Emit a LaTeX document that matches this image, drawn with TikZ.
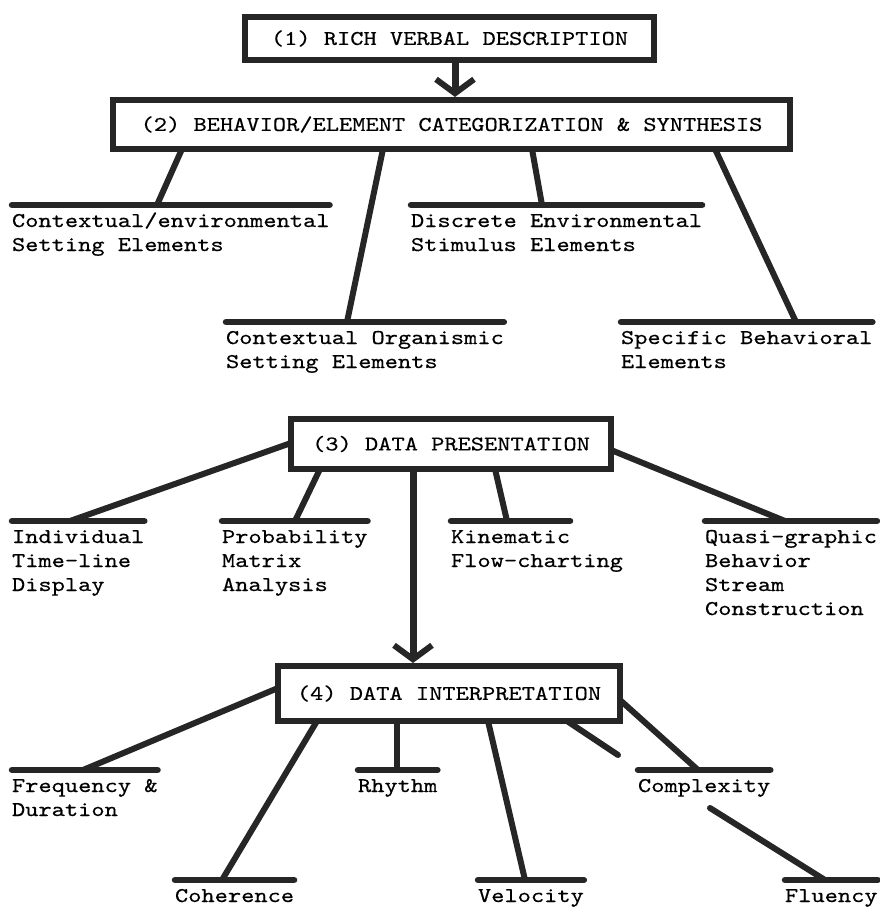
\documentclass[tikz,border=0pt]{standalone}
\usepackage{fontspec}
\newfontfamily\tw{lmmono10-regular.otf}[FakeStretch=1.2,FakeBold=0.4]
\usetikzlibrary{arrows.meta,calc,backgrounds}
\begin{document}
\begin{tikzpicture}[x=1pt,y=1pt,
  boxnode/.style={rectangle, draw=black!85, line width=6pt, fill=white, inner sep=0pt, outer sep=0pt, font=\tw\fontsize{21}{24}\selectfont},
  conn/.style={draw=black!85, line width=6pt, line cap=round},
  flow/.style={draw=black!85, line width=7pt, -{Straight Barb[length=14pt,width=38pt,line width=6pt]}},
  labbar/.style={draw=black!85, line width=6.5pt, line cap=round},
  lab/.style={font=\tw\fontsize{21}{24}\selectfont, inner sep=0pt, outer sep=0pt, anchor=north west, text height=22pt, text depth=0pt,
    append after command={(\tikzlastnode.north west) edge[labbar] (\tikzlastnode.north east)}},
  rest/.style={font=\tw\fontsize{21}{24}\selectfont, inner sep=0pt, outer sep=0pt, anchor=north west, align=left},
]
\useasboundingbox (0,0) rectangle (880,-908);

% boxes
\node[boxnode, minimum width=409pt, minimum height=43pt] (b1) at (449.5,-38.5) {(1) RICH VERBAL DESCRIPTION};
\node[boxnode, minimum width=677pt, minimum height=49pt] (b2) at (451.5,-124.5) {(2) BEHAVIOR/ELEMENT CATEGORIZATION \& SYNTHESIS};
\node[boxnode, minimum width=320pt, minimum height=50pt] (b3) at (451,-444) {(3) DATA PRESENTATION};
\node[boxnode, minimum width=342pt, minimum height=55pt] (b4) at (449,-693.5) {(4) DATA INTERPRETATION};

% labels, row 1
\node[lab] (cenv) at (12,-205) {Contextual/environmental};
\node[rest] (cenv2) at (cenv.south west) {\rule{0pt}{24pt}Setting Elements};
\node[lab] (disc) at (411,-205) {Discrete Environmental};
\node[rest] (disc2) at (disc.south west) {\rule{0pt}{24pt}Stimulus Elements};
% row 2
\node[lab] (corg) at (226,-322) {Contextual Organismic};
\node[rest] (corg2) at (corg.south west) {\rule{0pt}{24pt}Setting Elements};
\node[lab] (spec) at (621,-322) {Specific Behavioral};
\node[rest] (spec2) at (spec.south west) {\rule{0pt}{24pt}Elements};
% row 3
\node[lab] (indiv) at (12,-521) {Individual};
\node[rest] (indiv2) at (indiv.south west) {\rule{0pt}{24pt}Time-line\\Display};
\node[lab] (prob) at (222,-521) {Probability};
\node[rest] (prob2) at (prob.south west) {\rule{0pt}{24pt}Matrix\\Analysis};
\node[lab] (kin) at (451,-521) {Kinematic};
\node[rest] (kin2) at (kin.south west) {\rule{0pt}{24pt}Flow-charting};
\node[lab] (quasi) at (705,-521) {Quasi-graphic};
\node[rest] (quasi2) at (quasi.south west) {\rule{0pt}{24pt}Behavior\\Stream\\Construction};
% row 4
\node[lab] (freq) at (12,-770) {Frequency \&};
\node[rest] (freq2) at (freq.south west) {\rule{0pt}{24pt}Duration};
\node[lab] (rhy) at (358,-770) {Rhythm};
\node[lab] (cplx) at (638,-770) {Complexity};
% row 5
\node[lab] (coh) at (175,-880) {Coherence};
\node[lab] (vel) at (478,-880) {Velocity};
\node[lab] (flu) at (785,-880) {Fluency};

\coordinate (stubend) at (618,-755);
\coordinate (flustart) at (710,-808);

\begin{pgfonlayer}{background}
% flow arrows
\draw[flow] ([xshift=5.5pt]b1.south) -- ([xshift=3.5pt,yshift=3pt]b2.north);
\draw[flow] ([xshift=122pt]b3.south west) -- ([xshift=135pt,yshift=3pt]b4.north west);
% from box 2
\draw[conn] ([xshift=69pt]b2.south west) -- ([xshift=145pt]cenv.north west);
\draw[conn] ([xshift=270pt]b2.south west) -- ([xshift=121pt]corg.north west);
\draw[conn] ([xshift=419pt]b2.south west) -- ([xshift=131pt]disc.north west);
\draw[conn] ([xshift=602pt]b2.south west) -- ([xshift=175pt]spec.north west);
% from box 3
\draw[conn] ([yshift=1pt]b3.west) -- ([xshift=58pt]indiv.north west);
\draw[conn] ([xshift=29pt]b3.south west) -- ([xshift=73pt]prob.north west);
\draw[conn] ([xshift=204pt]b3.south west) -- ([xshift=56pt]kin.north west);
\draw[conn] ([yshift=-6pt]b3.east) -- ([xshift=80pt]quasi.north west);
% from box 4
\draw[conn] ([yshift=5.5pt]b4.west) -- ([xshift=71pt]freq.north west);
\draw[conn] ([xshift=39pt]b4.south west) -- ([xshift=47pt]coh.north west);
\draw[conn] ([xshift=119pt]b4.south west) -- ([xshift=39pt]rhy.north west);
\draw[conn] ([xshift=210pt]b4.south west) -- ([xshift=47pt]vel.north west);
\draw[conn] ([yshift=-6.5pt]b4.east) -- ([xshift=60pt]cplx.north west);
\draw[conn] ([xshift=289pt]b4.south west) -- (stubend);
\draw[conn] (flustart) -- ([xshift=40pt]flu.north west);
\end{pgfonlayer}
\end{tikzpicture}
\end{document}
